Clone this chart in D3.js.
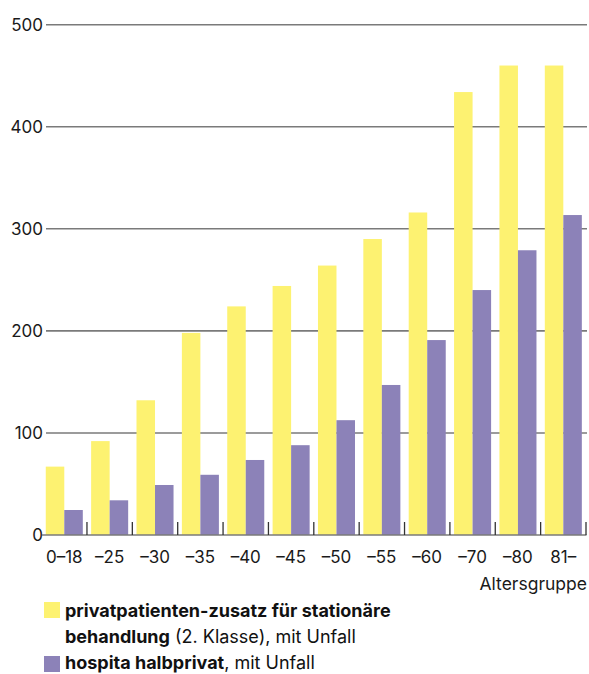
<!DOCTYPE html>
<html>
<head>
<meta charset="utf-8">
<script src="https://cdn.jsdelivr.net/npm/d3@7"></script>
<style>
  body { margin: 0; background: #fff; }
  svg { display: block; font-family: Inter, "Noto Sans", sans-serif; }
</style>
</head>
<body>
<svg id="chart" width="589" height="674"></svg>
<script>
// age groups and premiums
const categories = ["0–18", "–25", "–30", "–35", "–40", "–45", "–50", "–55", "–60", "–70", "–80", "81–"];
const privatValues = [67, 92, 132, 198, 224, 244, 264, 290, 316, 434, 460, 460];
const halbprivatValues = [24.5, 34, 49, 59, 73.5, 88, 112.5, 147, 191, 240, 279, 313.5];
const yTicks = [0, 100, 200, 300, 400, 500];
const series = ["privat", "halbprivat"];
const colors = { privat: "#fdf271", halbprivat: "#8c82b8" };

const svg = d3.select("#chart");

const y = d3.scaleLinear().domain([0, 500]).range([535, 24.7]);
const x = d3.scaleBand().domain(categories).range([41.6, 586]).padding(0);
const xInner = d3.scaleBand().domain(series).range([0, x.bandwidth()])
  .paddingInner(0).paddingOuter(0.225);

// gridlines (except zero)
svg.append("g")
  .selectAll("line")
  .data(yTicks.filter(d => d > 0))
  .enter().append("line")
  .attr("x1", 46).attr("x2", 587)
  .attr("y1", d => y(d)).attr("y2", d => y(d))
  .attr("stroke", "#7a7a7a")
  .attr("stroke-width", 1.6);

// y labels
svg.append("g")
  .selectAll("text")
  .data(yTicks)
  .enter().append("text")
  .attr("x", 43)
  .attr("y", d => y(d))
  .attr("dy", "0.36em")
  .attr("text-anchor", "end")
  .attr("font-size", 17)
  .attr("fill", "#1a1a1a")
  .text(d => d);

// bars
const rows = categories.map((c, i) => ({ cat: c, privat: privatValues[i], halbprivat: halbprivatValues[i] }));

const groups = svg.append("g")
  .selectAll("g")
  .data(rows)
  .enter().append("g")
  .attr("transform", d => `translate(${x(d.cat)},0)`);

groups.selectAll("rect")
  .data(d => series.map(s => ({ key: s, value: d[s] })))
  .enter().append("rect")
  .attr("x", d => xInner(d.key))
  .attr("width", xInner.bandwidth())
  .attr("y", d => y(d.value))
  .attr("height", d => y(0) - y(d.value))
  .attr("fill", d => colors[d.key]);

// baseline
svg.append("line")
  .attr("x1", 42).attr("x2", 586.5)
  .attr("y1", y(0)).attr("y2", y(0))
  .attr("stroke", "#7a7a7a")
  .attr("stroke-width", 1.6);

// small ticks between groups
svg.append("g")
  .selectAll("line")
  .data(categories)
  .enter().append("line")
  .attr("x1", d => x(d) + x.bandwidth())
  .attr("x2", d => x(d) + x.bandwidth())
  .attr("y1", y(0) - 13).attr("y2", y(0))
  .attr("stroke", "#333")
  .attr("stroke-width", 1.3);

// x labels
svg.append("g")
  .selectAll("text")
  .data(categories)
  .enter().append("text")
  .attr("x", d => x(d) + x.bandwidth() / 2)
  .attr("y", 563)
  .attr("text-anchor", "middle")
  .attr("font-size", 17)
  .attr("fill", "#1a1a1a")
  .text(d => d);

svg.append("text")
  .attr("x", 587)
  .attr("y", 590)
  .attr("text-anchor", "end")
  .attr("font-size", 17.5)
  .attr("fill", "#1a1a1a")
  .text("Altersgruppe");

// legend
const legend = svg.append("g");
legend.append("rect").attr("x", 44).attr("y", 602).attr("width", 16).attr("height", 16).attr("fill", colors.privat);
legend.append("rect").attr("x", 44).attr("y", 656).attr("width", 16).attr("height", 16).attr("fill", colors.halbprivat);

const l1 = legend.append("text").attr("x", 65).attr("y", 617).attr("font-size", 18).attr("fill", "#111");
l1.append("tspan").attr("font-weight", "bold").text("privatpatienten-zusatz für stationäre");

const l2 = legend.append("text").attr("x", 65).attr("y", 643).attr("font-size", 18).attr("fill", "#111");
l2.append("tspan").attr("font-weight", "bold").text("behandlung");
l2.append("tspan").text(" (2. Klasse), mit Unfall");

const l3 = legend.append("text").attr("x", 65).attr("y", 669).attr("font-size", 18).attr("fill", "#111");
l3.append("tspan").attr("font-weight", "bold").text("hospita halbprivat");
l3.append("tspan").text(", mit Unfall");
</script>
</body>
</html>
